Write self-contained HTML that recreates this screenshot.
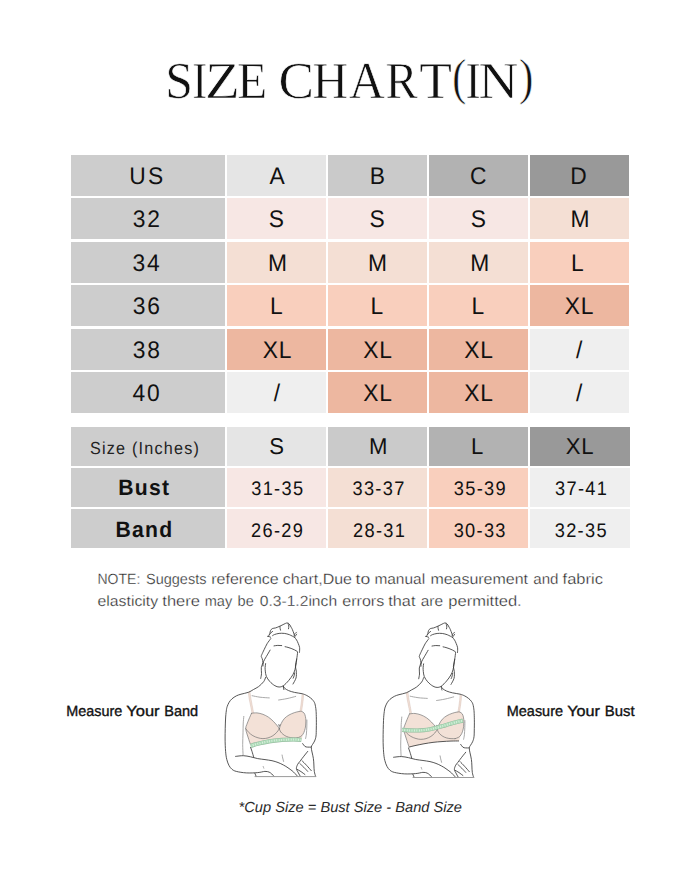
<!DOCTYPE html>
<html><head><meta charset="utf-8"><title>Size Chart</title>
<style>
html,body{margin:0;padding:0;background:#fff;}
body{width:700px;height:875px;overflow:hidden;position:relative;font-family:"Liberation Sans",sans-serif;}
svg{position:absolute;left:0;top:0;}
text{text-rendering:geometricPrecision;font-family:"Liberation Sans",sans-serif;fill:#111;}
.t1{font-kerning:none;}
.t2h{fill:#222;font-kerning:none;}
.t2b{font-weight:bold;font-kerning:none;}
.t2n{font-kerning:none;}
.ttl{font-family:"Liberation Serif",serif;font-size:51.8px;fill:#111;stroke:#fff;stroke-width:0.6px;}
.note{font-size:14.8px;fill:#222;stroke:#fff;stroke-width:0.3px;}
.lbl{font-size:14.8px;fill:#111;stroke:#111;stroke-width:0.35px;}
.foot{font-size:14.6px;font-style:italic;fill:#2a2a2a;}
</style></head><body>
<svg width="700" height="875" viewBox="0 0 700 875">
<rect width="700" height="875" fill="#fff"/>
<text class="ttl" transform="translate(165.27,97.70) scale(0.962,1.000)">S</text><text class="ttl" transform="translate(192.17,97.70) scale(0.870,1.000)">I</text><text class="ttl" transform="translate(205.07,97.70) scale(1.101,1.000)">Z</text><text class="ttl" transform="translate(237.19,97.70) scale(0.947,1.000)">E</text><text class="ttl" transform="translate(278.62,97.70) scale(1.028,1.000)">C</text><text class="ttl" transform="translate(312.58,97.70) scale(0.951,1.000)">H</text><text class="ttl" transform="translate(348.92,97.70) scale(0.956,1.000)">A</text><text class="ttl" transform="translate(385.41,97.70) scale(0.931,1.000)">R</text><text class="ttl" transform="translate(419.33,97.70) scale(1.032,1.000)">T</text><text class="ttl" transform="translate(452.25,94.25) scale(0.812,0.984)">(</text><text class="ttl" transform="translate(465.56,97.70) scale(0.878,1.000)">I</text><text class="ttl" transform="translate(478.41,97.70) scale(1.063,1.000)">N</text><text class="ttl" transform="translate(518.91,94.25) scale(0.834,0.984)">)</text>
<rect x="71" y="155" width="154.0" height="41" fill="#cdcdcd"/>
<rect x="227" y="155" width="99.0" height="41" fill="#e5e5e5"/>
<rect x="328" y="155" width="99.0" height="41" fill="#cacaca"/>
<rect x="429" y="155" width="99.0" height="41" fill="#b2b2b2"/>
<rect x="530" y="155" width="99.0" height="41" fill="#999999"/>
<rect x="71" y="198" width="154.0" height="41" fill="#cdcdcd"/>
<rect x="227" y="198" width="99.0" height="41" fill="#f7e7e4"/>
<rect x="328" y="198" width="99.0" height="41" fill="#f7e7e4"/>
<rect x="429" y="198" width="99.0" height="41" fill="#f7e7e4"/>
<rect x="530" y="198" width="99.0" height="41" fill="#f4dfd4"/>
<rect x="71" y="242" width="154.0" height="41" fill="#cdcdcd"/>
<rect x="227" y="242" width="99.0" height="41" fill="#f4dfd4"/>
<rect x="328" y="242" width="99.0" height="41" fill="#f4dfd4"/>
<rect x="429" y="242" width="99.0" height="41" fill="#f4dfd4"/>
<rect x="530" y="242" width="99.0" height="41" fill="#f9cfbd"/>
<rect x="71" y="285" width="154.0" height="41" fill="#cdcdcd"/>
<rect x="227" y="285" width="99.0" height="41" fill="#f9cfbd"/>
<rect x="328" y="285" width="99.0" height="41" fill="#f9cfbd"/>
<rect x="429" y="285" width="99.0" height="41" fill="#f9cfbd"/>
<rect x="530" y="285" width="99.0" height="41" fill="#edb7a0"/>
<rect x="71" y="329" width="154.0" height="41" fill="#cdcdcd"/>
<rect x="227" y="329" width="99.0" height="41" fill="#edb7a0"/>
<rect x="328" y="329" width="99.0" height="41" fill="#edb7a0"/>
<rect x="429" y="329" width="99.0" height="41" fill="#edb7a0"/>
<rect x="530" y="329" width="99.0" height="41" fill="#efefef"/>
<rect x="71" y="372" width="154.0" height="41" fill="#cdcdcd"/>
<rect x="227" y="372" width="99.0" height="41" fill="#efefef"/>
<rect x="328" y="372" width="99.0" height="41" fill="#edb7a0"/>
<rect x="429" y="372" width="99.0" height="41" fill="#edb7a0"/>
<rect x="530" y="372" width="99.0" height="41" fill="#efefef"/>
<rect x="71" y="427" width="154.0" height="39" fill="#cdcdcd"/>
<rect x="227" y="427" width="99.0" height="39" fill="#e5e5e5"/>
<rect x="328" y="427" width="99.0" height="39" fill="#cacaca"/>
<rect x="429" y="427" width="99.0" height="39" fill="#b2b2b2"/>
<rect x="530" y="427" width="100.0" height="39" fill="#999999"/>
<rect x="71" y="468" width="154.0" height="39" fill="#cdcdcd"/>
<rect x="227" y="468" width="99.0" height="39" fill="#f7e7e4"/>
<rect x="328" y="468" width="99.0" height="39" fill="#f4dfd4"/>
<rect x="429" y="468" width="99.0" height="39" fill="#f9cfbd"/>
<rect x="530" y="468" width="100.0" height="39" fill="#efefef"/>
<rect x="71" y="509" width="154.0" height="39" fill="#cdcdcd"/>
<rect x="227" y="509" width="99.0" height="39" fill="#f7e7e4"/>
<rect x="328" y="509" width="99.0" height="39" fill="#f4dfd4"/>
<rect x="429" y="509" width="99.0" height="39" fill="#f9cfbd"/>
<rect x="530" y="509" width="100.0" height="39" fill="#efefef"/>
<text class="t1" transform="translate(129.17,183.90) scale(0.95,1)" style="font-size:24px;letter-spacing:2.4px;">US</text>
<text class="t1" transform="translate(269.60,183.90) scale(0.95,1)" style="font-size:24px;">A</text>
<text class="t1" transform="translate(369.71,183.90) scale(0.95,1)" style="font-size:24px;">B</text>
<text class="t1" transform="translate(469.92,183.90) scale(0.95,1)" style="font-size:24px;">C</text>
<text class="t1" transform="translate(570.18,183.90) scale(0.95,1)" style="font-size:24px;">D</text>
<text class="t1" transform="translate(132.86,226.90) scale(0.95,1)" style="font-size:24px;letter-spacing:1.9px;">32</text>
<text class="t1" transform="translate(268.80,226.90) scale(0.95,1)" style="font-size:24px;">S</text>
<text class="t1" transform="translate(369.60,226.90) scale(0.95,1)" style="font-size:24px;">S</text>
<text class="t1" transform="translate(470.70,226.90) scale(0.95,1)" style="font-size:24px;">S</text>
<text class="t1" transform="translate(570.40,226.90) scale(0.95,1)" style="font-size:24px;">M</text>
<text class="t1" transform="translate(132.62,270.90) scale(0.95,1)" style="font-size:24px;letter-spacing:1.9px;">34</text>
<text class="t1" transform="translate(267.95,270.90) scale(0.95,1)" style="font-size:24px;">M</text>
<text class="t1" transform="translate(368.00,270.90) scale(0.95,1)" style="font-size:24px;">M</text>
<text class="t1" transform="translate(470.20,270.90) scale(0.95,1)" style="font-size:24px;">M</text>
<text class="t1" transform="translate(571.10,270.90) scale(0.95,1)" style="font-size:24px;">L</text>
<text class="t1" transform="translate(132.78,313.90) scale(0.95,1)" style="font-size:24px;letter-spacing:1.9px;">36</text>
<text class="t1" transform="translate(270.10,313.90) scale(0.95,1)" style="font-size:24px;">L</text>
<text class="t1" transform="translate(370.60,313.90) scale(0.95,1)" style="font-size:24px;">L</text>
<text class="t1" transform="translate(471.50,313.90) scale(0.95,1)" style="font-size:24px;">L</text>
<text class="t1" transform="translate(564.80,313.90) scale(0.95,1)" style="font-size:24px;letter-spacing:0.8px;">XL</text>
<text class="t1" transform="translate(132.78,357.90) scale(0.95,1)" style="font-size:24px;letter-spacing:1.9px;">38</text>
<text class="t1" transform="translate(262.80,357.90) scale(0.95,1)" style="font-size:24px;letter-spacing:0.8px;">XL</text>
<text class="t1" transform="translate(363.30,357.90) scale(0.95,1)" style="font-size:24px;letter-spacing:0.8px;">XL</text>
<text class="t1" transform="translate(464.20,357.90) scale(0.95,1)" style="font-size:24px;letter-spacing:0.8px;">XL</text>
<text class="t1" transform="translate(576.03,357.90) scale(0.95,1)" style="font-size:24px;">/</text>
<text class="t1" transform="translate(132.50,400.90) scale(0.95,1)" style="font-size:24px;letter-spacing:1.9px;">40</text>
<text class="t1" transform="translate(273.83,400.90) scale(0.95,1)" style="font-size:24px;">/</text>
<text class="t1" transform="translate(363.30,400.90) scale(0.95,1)" style="font-size:24px;letter-spacing:0.8px;">XL</text>
<text class="t1" transform="translate(464.20,400.90) scale(0.95,1)" style="font-size:24px;letter-spacing:0.8px;">XL</text>
<text class="t1" transform="translate(576.03,400.90) scale(0.95,1)" style="font-size:24px;">/</text>
<text class="t2h" transform="translate(89.97,453.90) scale(0.93,1)" style="font-size:17.4px;letter-spacing:1.3px;">Size (Inches)</text>
<text class="t1" transform="translate(269.13,453.90) scale(0.97,1)" style="font-size:22.8px;">S</text>
<text class="t1" transform="translate(369.09,453.90) scale(0.97,1)" style="font-size:22.8px;">M</text>
<text class="t1" transform="translate(471.11,453.90) scale(0.97,1)" style="font-size:22.8px;">L</text>
<text class="t1" transform="translate(565.71,453.90) scale(0.97,1)" style="font-size:22.8px;letter-spacing:0.8px;">XL</text>
<text class="t2b" transform="translate(118.26,494.70) scale(0.95,1)" style="font-size:22.3px;letter-spacing:1.35px;">Bust</text>
<text class="t2n" transform="translate(251.22,494.70) scale(0.93,1)" style="font-size:19.6px;letter-spacing:1.4px;">31-35</text>
<text class="t2n" transform="translate(352.50,494.70) scale(0.93,1)" style="font-size:19.6px;letter-spacing:1.4px;">33-37</text>
<text class="t2n" transform="translate(453.87,494.70) scale(0.93,1)" style="font-size:19.6px;letter-spacing:1.4px;">35-39</text>
<text class="t2n" transform="translate(555.08,494.70) scale(0.93,1)" style="font-size:19.6px;letter-spacing:1.4px;">37-41</text>
<text class="t2b" transform="translate(115.48,536.50) scale(0.95,1)" style="font-size:22.3px;letter-spacing:1.35px;">Band</text>
<text class="t2n" transform="translate(251.06,536.90) scale(0.93,1)" style="font-size:19.6px;letter-spacing:1.4px;">26-29</text>
<text class="t2n" transform="translate(353.07,536.90) scale(0.93,1)" style="font-size:19.6px;letter-spacing:1.4px;">28-31</text>
<text class="t2n" transform="translate(453.64,536.90) scale(0.93,1)" style="font-size:19.6px;letter-spacing:1.4px;">30-33</text>
<text class="t2n" transform="translate(554.72,536.90) scale(0.93,1)" style="font-size:19.6px;letter-spacing:1.4px;">32-35</text>
<text class="note" x="97.5" y="583.6" textLength="42.8" lengthAdjust="spacingAndGlyphs">NOTE:</text><text class="note" x="146.0" y="583.6" textLength="60.4" lengthAdjust="spacingAndGlyphs">Suggests</text><text class="note" x="211.3" y="583.6" textLength="67.3" lengthAdjust="spacingAndGlyphs">reference</text><text class="note" x="282.7" y="583.6" textLength="69.3" lengthAdjust="spacingAndGlyphs">chart,Due</text><text class="note" x="355.5" y="583.6" textLength="14.7" lengthAdjust="spacingAndGlyphs">to</text><text class="note" x="374.4" y="583.6" textLength="50.7" lengthAdjust="spacingAndGlyphs">manual</text><text class="note" x="430.4" y="583.6" textLength="97.6" lengthAdjust="spacingAndGlyphs">measurement</text><text class="note" x="533.3" y="583.6" textLength="25.2" lengthAdjust="spacingAndGlyphs">and</text><text class="note" x="562.6" y="583.6" textLength="40.4" lengthAdjust="spacingAndGlyphs">fabric</text><text class="note" x="97.5" y="606.2" textLength="60.6" lengthAdjust="spacingAndGlyphs">elasticity</text><text class="note" x="162.3" y="606.2" textLength="37.6" lengthAdjust="spacingAndGlyphs">there</text><text class="note" x="204.7" y="606.2" textLength="27.5" lengthAdjust="spacingAndGlyphs">may</text><text class="note" x="237.6" y="606.2" textLength="16.2" lengthAdjust="spacingAndGlyphs">be</text><text class="note" x="259.7" y="606.2" textLength="77.4" lengthAdjust="spacingAndGlyphs">0.3-1.2inch</text><text class="note" x="342.3" y="606.2" textLength="41.9" lengthAdjust="spacingAndGlyphs">errors</text><text class="note" x="388.3" y="606.2" textLength="27.1" lengthAdjust="spacingAndGlyphs">that</text><text class="note" x="420.7" y="606.2" textLength="22.3" lengthAdjust="spacingAndGlyphs">are</text><text class="note" x="448.3" y="606.2" textLength="73.4" lengthAdjust="spacingAndGlyphs">permitted.</text>
<text class="lbl" x="66.2" y="716" textLength="56.0" lengthAdjust="spacingAndGlyphs">Measure</text><text class="lbl" x="126.2" y="716" textLength="33.4" lengthAdjust="spacingAndGlyphs">Your</text><text class="lbl" x="164.2" y="716" textLength="34.0" lengthAdjust="spacingAndGlyphs">Band</text><text class="lbl" x="506.8" y="716" textLength="56.2" lengthAdjust="spacingAndGlyphs">Measure</text><text class="lbl" x="567.2" y="716" textLength="32.8" lengthAdjust="spacingAndGlyphs">Your</text><text class="lbl" x="604.8" y="716" textLength="29.8" lengthAdjust="spacingAndGlyphs">Bust</text>
<text class="foot" x="238.6" y="812.4" textLength="223.4" lengthAdjust="spacingAndGlyphs">*Cup Size = Bust Size - Band Size</text>
<g fill="none" stroke="#383838" stroke-width="0.85" stroke-linecap="round" stroke-linejoin="round"><path d="M250.7,745.3 L248.8,739.5 L247.0,734.0 L245.7,728.6 L246.8,724.5 L249.0,719.0 L251.5,713.3 L257.0,712.9 L262.9,714.3 L268.5,717.2 L273.5,721.5 L277.5,726.0 L279.3,728.8 L281.2,723.5 L284.3,718.6 L289.0,715.0 L294.3,712.7 L299.0,711.5 L301.6,711.4 L304.2,713.2 L305.4,716.5 L305.9,721.0 L305.6,726.0 L304.6,730.5 L302.9,734.3 L301.8,739.2 L301.3,739.9 L293.4,739.5 L282.0,739.9 L269.1,741.3 L257.7,743.8 L250.6,745.9Z" fill="#f3e1d7" stroke="none"/><path d="M248.3,692.3 L249.2,699.0 L250.6,706.0 L252.0,713.2 L253.6,712.8 L252.3,706.0 L251.0,699.0 L250.0,692.0Z" fill="#f3e1d7" stroke="none"/><path d="M302.0,694.6 L301.6,700.0 L300.8,706.0 L299.9,711.7 L301.6,711.4 L302.4,706.0 L303.2,700.0 L303.6,694.8Z" fill="#f3e1d7" stroke="none"/><path d="M248.3,692.3C248.5,693.4 248.8,696.7 249.2,699.0C249.6,701.3 250.1,703.6 250.6,706.0C251.1,708.4 251.8,712.0 252.0,713.2" stroke="#cdb4a8" stroke-width="0.4"/><path d="M250.0,692.0C250.2,693.2 250.6,696.7 251.0,699.0C251.4,701.3 251.9,703.7 252.3,706.0C252.7,708.3 253.4,711.7 253.6,712.8" stroke="#cdb4a8" stroke-width="0.4"/><path d="M302.0,694.6C301.9,695.5 301.8,698.1 301.6,700.0C301.4,701.9 301.1,704.0 300.8,706.0C300.5,708.0 300.0,710.8 299.9,711.7" stroke="#cdb4a8" stroke-width="0.4"/><path d="M303.6,694.8C303.5,695.7 303.4,698.1 303.2,700.0C303.0,701.9 302.7,704.1 302.4,706.0C302.1,707.9 301.7,710.5 301.6,711.4" stroke="#cdb4a8" stroke-width="0.4"/><path d="M268.4,636.4C268.6,635.9 269.5,634.4 269.9,633.4C270.2,632.4 270.1,631.4 270.5,630.6C270.9,629.8 271.4,629.1 272.3,628.6C273.2,628.1 274.4,628.3 275.7,627.9C277.0,627.5 278.6,626.7 280.0,626.1C281.4,625.5 282.8,624.7 283.9,624.2C285.0,623.7 285.9,623.1 286.6,623.0C287.4,622.9 287.8,623.0 288.4,623.3C288.9,623.6 289.4,624.3 289.9,625.0C290.4,625.7 290.8,626.5 291.2,627.3C291.6,628.1 292.0,628.6 292.4,629.6C292.8,630.6 293.3,632.0 293.7,633.0C294.1,634.0 294.5,635.3 294.7,635.8"/>
<path d="M293.9,634.8C294.1,634.6 294.8,634.0 295.2,633.6C295.6,633.2 296.3,632.4 296.5,632.2"/>
<path d="M267.6,636.3C267.9,636.3 268.7,636.5 269.2,636.6C269.7,636.8 270.4,637.1 270.6,637.2"/>
<path d="M294.8,636.6C295.0,636.4 295.5,635.8 295.8,635.4C296.1,635.0 296.5,634.4 296.6,634.2"/>
<path d="M269.8,634.2C270.0,633.9 270.7,633.0 271.2,632.5C271.7,632.0 272.4,631.7 272.6,631.5"/>
<path d="M272.6,635.6C272.9,635.4 273.5,634.9 274.6,634.5C275.7,634.1 277.5,633.6 279.1,633.4C280.7,633.2 282.6,633.2 284.3,633.4C286.0,633.6 287.7,634.1 289.4,634.7C291.1,635.4 293.7,636.9 294.6,637.3"/>
<path d="M280.0,626.6C280.0,626.9 280.0,627.8 280.1,628.4C280.2,629.0 280.4,629.9 280.5,630.2"/>
<path d="M288.0,623.6C288.1,624.0 288.7,625.1 288.8,626.0C288.9,626.9 288.6,628.3 288.5,628.8"/>
<path d="M294.6,637.3C294.9,637.8 296.0,639.0 296.6,640.0C297.2,641.0 297.7,642.1 298.2,643.4C298.7,644.7 299.4,646.1 299.6,647.6C299.8,649.1 299.5,651.5 299.5,652.3"/>
<path d="M270.8,638.6C270.2,639.5 268.2,641.9 267.1,643.7C266.0,645.6 265.0,647.9 264.1,649.7C263.2,651.5 262.3,653.5 261.8,654.6C261.3,655.8 261.2,655.9 261.3,656.6C261.4,657.3 261.9,657.6 262.2,658.6C262.5,659.6 263.0,661.1 262.9,662.6C262.8,664.1 261.5,665.9 261.3,667.7C261.1,669.6 261.6,671.9 261.5,673.7C261.4,675.5 260.8,677.6 260.7,678.4"/>
<path d="M297.6,652.3C297.5,653.4 297.1,656.8 296.7,659.1C296.3,661.4 295.5,664.0 295.4,666.0C295.3,668.0 296.2,669.1 296.3,671.1C296.4,673.1 296.6,675.9 296.0,678.0C295.4,680.1 293.5,683.0 293.0,684.0"/>
<path d="M274.0,645.9C274.6,645.8 276.5,645.4 277.8,645.4C279.1,645.4 281.1,645.6 281.7,645.6"/>
<path d="M285.1,646.7C285.6,646.8 287.0,647.1 288.0,647.4C289.0,647.7 290.0,648.0 291.1,648.4C292.2,648.8 293.4,649.3 294.4,649.8C295.4,650.3 296.8,651.2 297.3,651.5"/>
<path d="M265.6,663.6C265.5,664.2 265.2,666.2 265.1,667.5C265.1,668.8 265.1,669.6 265.3,671.1C265.5,672.6 265.6,674.6 266.3,676.3C267.0,678.0 268.3,679.8 269.7,681.4C271.1,683.0 273.3,684.8 274.9,685.7C276.5,686.6 277.7,687.0 279.1,687.0C280.5,687.0 281.8,686.8 283.4,685.7C285.0,684.6 287.0,682.5 288.6,680.6C290.2,678.8 291.8,676.5 292.9,674.6C294.0,672.7 294.5,671.2 295.0,669.4C295.5,667.6 295.8,665.7 296.1,664.0C296.4,662.3 296.6,659.9 296.7,659.1"/>
<path d="M270.1,650.1C269.5,651.2 267.4,654.7 266.3,656.6C265.2,658.5 264.1,660.1 263.5,661.7C262.9,663.3 263.1,665.3 263.0,666.0"/>
<path d="M294.6,672.9C294.5,673.3 294.4,674.6 294.2,675.5C294.0,676.4 293.4,677.8 293.2,678.2"/>
<path d="M265.6,677.3C265.3,678.0 264.9,680.0 263.7,681.6C262.5,683.2 260.3,685.3 258.6,686.6C256.9,687.9 255.2,688.5 253.5,689.5C251.8,690.5 250.5,691.5 248.4,692.3C246.3,693.1 243.0,693.6 241.0,694.2C239.0,694.8 237.8,695.1 236.3,695.9C234.8,696.7 233.2,697.7 232.0,698.8C230.8,699.9 229.9,701.0 229.1,702.3C228.3,703.6 227.7,705.1 227.2,706.5C226.7,707.9 226.6,708.6 226.3,710.9C226.0,713.1 225.7,715.5 225.5,720.0C225.3,724.5 225.1,732.8 225.1,738.0C225.1,743.2 225.3,747.8 225.6,751.4C225.9,755.0 226.2,757.1 226.8,759.5C227.4,761.9 228.2,764.1 229.1,765.7C230.0,767.3 230.8,768.3 232.0,769.3C233.2,770.2 233.9,770.8 236.3,771.4C238.7,772.0 242.7,772.7 246.3,772.9C249.9,773.1 254.6,772.9 257.7,772.6C260.8,772.4 263.0,771.5 264.9,771.4C266.8,771.3 268.0,771.7 269.1,772.1C270.2,772.5 271.0,773.3 271.8,774.0C272.6,774.7 273.7,776.0 274.1,776.4"/>
<path d="M283.4,686.1C283.6,686.5 283.7,687.5 284.6,688.2C285.5,689.0 287.0,689.9 288.6,690.6C290.2,691.3 292.3,691.9 294.5,692.4C296.7,692.9 299.9,693.2 302.0,693.7C304.1,694.2 305.4,694.8 306.8,695.5C308.2,696.2 309.5,697.1 310.6,698.0C311.7,698.9 312.5,699.6 313.2,700.6C313.9,701.6 314.4,702.1 314.9,703.7C315.4,705.3 315.8,707.9 316.0,710.0C316.2,712.1 316.2,713.6 316.3,716.6C316.4,719.6 316.4,724.8 316.3,728.0C316.2,731.2 316.3,733.8 316.0,736.0C315.7,738.2 315.2,739.6 314.6,741.0C314.0,742.4 313.1,743.5 312.5,744.5C311.9,745.5 311.4,745.9 311.3,747.1C311.2,748.4 311.6,750.1 312.0,752.0C312.4,753.9 313.1,756.4 313.4,758.6C313.7,760.8 313.8,762.9 313.9,765.0C314.0,767.1 314.0,769.5 314.3,771.4C314.6,773.3 315.4,775.6 315.6,776.4"/>
<path d="M283.3,686.3C283.3,686.6 283.4,687.5 283.5,688.0C283.6,688.5 283.8,689.3 283.9,689.6"/>
<path d="M252.1,695.7C253.4,696.0 257.1,696.8 260.0,697.2C262.9,697.6 267.8,697.8 269.3,697.9" stroke="#9a9a9a"/>
<path d="M278.6,700.0C280.0,699.8 284.1,699.2 287.0,698.6C289.9,698.0 294.2,696.8 295.7,696.4" stroke="#9a9a9a"/>
<path d="M243.8,716.4C243.7,717.7 243.3,721.2 243.2,724.0C243.1,726.8 243.1,729.5 243.0,732.9C242.9,736.3 242.7,740.6 242.7,744.3C242.7,748.0 243.0,753.2 243.1,755.0" stroke="#9a9a9a"/>
<path d="M235.6,756.4C236.9,756.3 240.9,755.6 243.4,755.7C245.9,755.8 248.1,756.3 250.5,756.8C252.9,757.3 255.3,758.1 257.7,758.6C260.1,759.1 262.6,759.2 265.0,759.6C267.4,760.0 269.8,760.2 272.0,760.7C274.2,761.2 276.1,761.8 278.0,762.5C279.9,763.2 281.7,764.1 283.4,765.0C285.1,765.9 286.6,766.8 288.0,767.8C289.4,768.8 290.8,769.8 292.0,770.7C293.2,771.7 294.1,772.5 295.0,773.5C295.9,774.5 297.2,775.9 297.7,776.4"/>
<path d="M250.6,747.4C250.8,748.1 251.5,749.8 252.0,751.4C252.5,753.0 253.4,756.1 253.7,757.1"/>
<path d="M282.1,755.0C282.2,755.5 282.4,756.9 282.7,758.0C282.9,759.1 283.5,760.8 283.6,761.4" stroke="#9a9a9a"/>
<path d="M254.9,773.4C255.1,773.9 256.0,775.9 256.2,776.4"/>
<path d="M263.2,766.5C263.3,766.8 263.7,767.9 263.8,768.2" stroke="#9a9a9a"/>
<path d="M306.9,720.0C306.9,721.2 306.9,724.7 306.8,727.0C306.7,729.3 306.6,732.1 306.4,734.0C306.2,735.9 305.7,737.8 305.6,738.5" stroke="#9a9a9a"/>
<path d="M302.7,743.6C303.1,744.1 304.1,745.8 304.9,746.4C305.7,747.0 306.5,747.0 307.5,747.1C308.5,747.2 310.2,747.1 310.8,747.1"/>
<path d="M307.7,751.4C307.2,752.0 305.8,753.8 304.8,755.0C303.9,756.2 302.8,757.5 302.0,758.6C301.2,759.7 300.5,760.5 299.8,761.5C299.1,762.5 298.3,763.1 297.7,764.3C297.1,765.5 296.3,767.2 296.4,768.6C296.5,770.0 297.8,771.6 298.4,772.9C299.0,774.2 300.0,775.7 300.3,776.2"/>
<path d="M299.9,763.6C300.5,764.2 302.5,766.0 303.8,767.3C305.1,768.6 307.1,770.7 307.7,771.4"/>
<path d="M302.0,760.7C302.8,761.5 305.1,763.7 306.6,765.4C308.2,767.1 310.5,769.8 311.3,770.7"/>
<path d="M297.0,769.3C297.7,769.7 299.7,770.7 301.0,771.6C302.3,772.5 304.2,774.0 304.9,774.5"/><path d="M251.5,713.3C252.4,713.2 255.1,712.7 257.0,712.9C258.9,713.1 261.0,713.6 262.9,714.3C264.8,715.0 266.7,716.0 268.5,717.2C270.3,718.4 272.0,720.0 273.5,721.5C275.0,723.0 276.5,724.8 277.5,726.0C278.5,727.2 279.0,728.3 279.3,728.8" stroke="#6a6a6a" stroke-width="0.65"/><path d="M245.7,728.6C246.2,729.2 247.6,731.3 248.8,732.5C250.0,733.7 251.4,734.8 252.9,735.7C254.4,736.6 256.3,737.3 258.0,737.8C259.7,738.3 261.2,738.6 262.9,738.6C264.6,738.6 266.3,738.4 268.0,737.9C269.7,737.4 271.4,736.6 272.9,735.7C274.4,734.8 275.7,733.4 276.8,732.3C277.9,731.1 278.9,729.4 279.3,728.8" stroke="#6a6a6a" stroke-width="0.65"/><path d="M251.5,713.3C251.1,714.2 249.8,717.1 249.0,719.0C248.2,720.9 247.4,722.9 246.8,724.5C246.2,726.1 245.7,727.0 245.7,728.6C245.7,730.2 246.5,732.2 247.0,734.0C247.5,735.8 248.2,737.6 248.8,739.5C249.4,741.4 250.4,744.3 250.7,745.3" stroke="#6a6a6a" stroke-width="0.65"/><path d="M279.3,728.8C279.6,727.9 280.4,725.2 281.2,723.5C282.0,721.8 283.0,720.0 284.3,718.6C285.6,717.2 287.3,716.0 289.0,715.0C290.7,714.0 292.6,713.3 294.3,712.7C296.0,712.1 297.8,711.7 299.0,711.5C300.2,711.3 300.7,711.1 301.6,711.4C302.5,711.7 303.6,712.4 304.2,713.2C304.8,714.1 305.1,715.2 305.4,716.5C305.7,717.8 305.9,719.4 305.9,721.0C305.9,722.6 305.8,724.4 305.6,726.0C305.4,727.6 305.1,729.1 304.6,730.5C304.2,731.9 303.6,733.3 302.9,734.3C302.2,735.3 301.5,736.0 300.5,736.6C299.5,737.2 297.7,737.7 297.1,737.9" stroke="#6a6a6a" stroke-width="0.65"/><path d="M279.3,728.8C279.4,729.2 279.8,730.3 280.2,731.0C280.6,731.7 280.8,732.2 281.6,733.0C282.4,733.8 283.6,734.9 284.8,735.6C286.0,736.3 287.2,736.8 288.6,737.2C290.0,737.6 291.6,737.8 293.0,737.9C294.4,738.0 296.4,737.9 297.1,737.9" stroke="#6a6a6a" stroke-width="0.65"/><path d="M278.6,724.6L279.3,726.4L280,724.6" stroke-width="0.5"/><path d="M250.6,745.9C251.8,745.5 254.6,744.6 257.7,743.8C260.8,743.0 265.1,741.9 269.1,741.3C273.2,740.6 277.9,740.2 282.0,739.9C286.1,739.6 290.2,739.5 293.4,739.5C296.6,739.5 300.0,739.8 301.3,739.9" stroke="#93b59b" stroke-width="4.2" stroke-linecap="butt"/><path d="M250.6,745.9C251.8,745.5 254.6,744.6 257.7,743.8C260.8,743.0 265.1,741.9 269.1,741.3C273.2,740.6 277.9,740.2 282.0,739.9C286.1,739.6 290.2,739.5 293.4,739.5C296.6,739.5 300.0,739.8 301.3,739.9" stroke="#addbb8" stroke-width="3.4" stroke-linecap="butt"/><path d="M250.6,745.9C251.8,745.5 254.6,744.6 257.7,743.8C260.8,743.0 265.1,741.9 269.1,741.3C273.2,740.6 277.9,740.2 282.0,739.9C286.1,739.6 290.2,739.5 293.4,739.5C296.6,739.5 300.0,739.8 301.3,739.9" stroke="#e6f4e8" stroke-width="2.0" stroke-dasharray="0.7 1.7" stroke-linecap="butt"/><path d="M255,776.6H315.8" stroke="#9a9a9a" stroke-width="1"/></g>
<g transform="translate(158,-4.05) scale(1,1.0065)" fill="none" stroke="#383838" stroke-width="0.85" stroke-linecap="round" stroke-linejoin="round"><path d="M250.7,745.3 L248.8,739.5 L247.0,734.0 L245.7,728.6 L246.8,724.5 L249.0,719.0 L251.5,713.3 L257.0,712.9 L262.9,714.3 L268.5,717.2 L273.5,721.5 L277.5,726.0 L279.3,728.8 L281.2,723.5 L284.3,718.6 L289.0,715.0 L294.3,712.7 L299.0,711.5 L301.6,711.4 L304.2,713.2 L305.4,716.5 L305.9,721.0 L305.6,726.0 L304.6,730.5 L302.9,734.3 L301.0,740.2 L300.6,740.2 L293.0,740.3 L284.0,740.8 L275.0,741.6 L266.0,743.0 L258.0,744.6 L250.9,746.3Z" fill="#f3e1d7" stroke="none"/><path d="M248.3,692.3 L249.2,699.0 L250.6,706.0 L252.0,713.2 L253.6,712.8 L252.3,706.0 L251.0,699.0 L250.0,692.0Z" fill="#f3e1d7" stroke="none"/><path d="M302.0,694.6 L301.6,700.0 L300.8,706.0 L299.9,711.7 L301.6,711.4 L302.4,706.0 L303.2,700.0 L303.6,694.8Z" fill="#f3e1d7" stroke="none"/><path d="M248.3,692.3C248.5,693.4 248.8,696.7 249.2,699.0C249.6,701.3 250.1,703.6 250.6,706.0C251.1,708.4 251.8,712.0 252.0,713.2" stroke="#cdb4a8" stroke-width="0.4"/><path d="M250.0,692.0C250.2,693.2 250.6,696.7 251.0,699.0C251.4,701.3 251.9,703.7 252.3,706.0C252.7,708.3 253.4,711.7 253.6,712.8" stroke="#cdb4a8" stroke-width="0.4"/><path d="M302.0,694.6C301.9,695.5 301.8,698.1 301.6,700.0C301.4,701.9 301.1,704.0 300.8,706.0C300.5,708.0 300.0,710.8 299.9,711.7" stroke="#cdb4a8" stroke-width="0.4"/><path d="M303.6,694.8C303.5,695.7 303.4,698.1 303.2,700.0C303.0,701.9 302.7,704.1 302.4,706.0C302.1,707.9 301.7,710.5 301.6,711.4" stroke="#cdb4a8" stroke-width="0.4"/><path d="M268.4,636.4C268.6,635.9 269.5,634.4 269.9,633.4C270.2,632.4 270.1,631.4 270.5,630.6C270.9,629.8 271.4,629.1 272.3,628.6C273.2,628.1 274.4,628.3 275.7,627.9C277.0,627.5 278.6,626.7 280.0,626.1C281.4,625.5 282.8,624.7 283.9,624.2C285.0,623.7 285.9,623.1 286.6,623.0C287.4,622.9 287.8,623.0 288.4,623.3C288.9,623.6 289.4,624.3 289.9,625.0C290.4,625.7 290.8,626.5 291.2,627.3C291.6,628.1 292.0,628.6 292.4,629.6C292.8,630.6 293.3,632.0 293.7,633.0C294.1,634.0 294.5,635.3 294.7,635.8"/>
<path d="M293.9,634.8C294.1,634.6 294.8,634.0 295.2,633.6C295.6,633.2 296.3,632.4 296.5,632.2"/>
<path d="M267.6,636.3C267.9,636.3 268.7,636.5 269.2,636.6C269.7,636.8 270.4,637.1 270.6,637.2"/>
<path d="M294.8,636.6C295.0,636.4 295.5,635.8 295.8,635.4C296.1,635.0 296.5,634.4 296.6,634.2"/>
<path d="M269.8,634.2C270.0,633.9 270.7,633.0 271.2,632.5C271.7,632.0 272.4,631.7 272.6,631.5"/>
<path d="M272.6,635.6C272.9,635.4 273.5,634.9 274.6,634.5C275.7,634.1 277.5,633.6 279.1,633.4C280.7,633.2 282.6,633.2 284.3,633.4C286.0,633.6 287.7,634.1 289.4,634.7C291.1,635.4 293.7,636.9 294.6,637.3"/>
<path d="M280.0,626.6C280.0,626.9 280.0,627.8 280.1,628.4C280.2,629.0 280.4,629.9 280.5,630.2"/>
<path d="M288.0,623.6C288.1,624.0 288.7,625.1 288.8,626.0C288.9,626.9 288.6,628.3 288.5,628.8"/>
<path d="M294.6,637.3C294.9,637.8 296.0,639.0 296.6,640.0C297.2,641.0 297.7,642.1 298.2,643.4C298.7,644.7 299.4,646.1 299.6,647.6C299.8,649.1 299.5,651.5 299.5,652.3"/>
<path d="M270.8,638.6C270.2,639.5 268.2,641.9 267.1,643.7C266.0,645.6 265.0,647.9 264.1,649.7C263.2,651.5 262.3,653.5 261.8,654.6C261.3,655.8 261.2,655.9 261.3,656.6C261.4,657.3 261.9,657.6 262.2,658.6C262.5,659.6 263.0,661.1 262.9,662.6C262.8,664.1 261.5,665.9 261.3,667.7C261.1,669.6 261.6,671.9 261.5,673.7C261.4,675.5 260.8,677.6 260.7,678.4"/>
<path d="M297.6,652.3C297.5,653.4 297.1,656.8 296.7,659.1C296.3,661.4 295.5,664.0 295.4,666.0C295.3,668.0 296.2,669.1 296.3,671.1C296.4,673.1 296.6,675.9 296.0,678.0C295.4,680.1 293.5,683.0 293.0,684.0"/>
<path d="M274.0,645.9C274.6,645.8 276.5,645.4 277.8,645.4C279.1,645.4 281.1,645.6 281.7,645.6"/>
<path d="M285.1,646.7C285.6,646.8 287.0,647.1 288.0,647.4C289.0,647.7 290.0,648.0 291.1,648.4C292.2,648.8 293.4,649.3 294.4,649.8C295.4,650.3 296.8,651.2 297.3,651.5"/>
<path d="M265.6,663.6C265.5,664.2 265.2,666.2 265.1,667.5C265.1,668.8 265.1,669.6 265.3,671.1C265.5,672.6 265.6,674.6 266.3,676.3C267.0,678.0 268.3,679.8 269.7,681.4C271.1,683.0 273.3,684.8 274.9,685.7C276.5,686.6 277.7,687.0 279.1,687.0C280.5,687.0 281.8,686.8 283.4,685.7C285.0,684.6 287.0,682.5 288.6,680.6C290.2,678.8 291.8,676.5 292.9,674.6C294.0,672.7 294.5,671.2 295.0,669.4C295.5,667.6 295.8,665.7 296.1,664.0C296.4,662.3 296.6,659.9 296.7,659.1"/>
<path d="M270.1,650.1C269.5,651.2 267.4,654.7 266.3,656.6C265.2,658.5 264.1,660.1 263.5,661.7C262.9,663.3 263.1,665.3 263.0,666.0"/>
<path d="M294.6,672.9C294.5,673.3 294.4,674.6 294.2,675.5C294.0,676.4 293.4,677.8 293.2,678.2"/>
<path d="M265.6,677.3C265.3,678.0 264.9,680.0 263.7,681.6C262.5,683.2 260.3,685.3 258.6,686.6C256.9,687.9 255.2,688.5 253.5,689.5C251.8,690.5 250.5,691.5 248.4,692.3C246.3,693.1 243.0,693.6 241.0,694.2C239.0,694.8 237.8,695.1 236.3,695.9C234.8,696.7 233.2,697.7 232.0,698.8C230.8,699.9 229.9,701.0 229.1,702.3C228.3,703.6 227.7,705.1 227.2,706.5C226.7,707.9 226.6,708.6 226.3,710.9C226.0,713.1 225.7,715.5 225.5,720.0C225.3,724.5 225.1,732.8 225.1,738.0C225.1,743.2 225.3,747.8 225.6,751.4C225.9,755.0 226.2,757.1 226.8,759.5C227.4,761.9 228.2,764.1 229.1,765.7C230.0,767.3 230.8,768.3 232.0,769.3C233.2,770.2 233.9,770.8 236.3,771.4C238.7,772.0 242.7,772.7 246.3,772.9C249.9,773.1 254.6,772.9 257.7,772.6C260.8,772.4 263.0,771.5 264.9,771.4C266.8,771.3 268.0,771.7 269.1,772.1C270.2,772.5 271.0,773.3 271.8,774.0C272.6,774.7 273.7,776.0 274.1,776.4"/>
<path d="M283.4,686.1C283.6,686.5 283.7,687.5 284.6,688.2C285.5,689.0 287.0,689.9 288.6,690.6C290.2,691.3 292.3,691.9 294.5,692.4C296.7,692.9 299.9,693.2 302.0,693.7C304.1,694.2 305.4,694.8 306.8,695.5C308.2,696.2 309.5,697.1 310.6,698.0C311.7,698.9 312.5,699.6 313.2,700.6C313.9,701.6 314.4,702.1 314.9,703.7C315.4,705.3 315.8,707.9 316.0,710.0C316.2,712.1 316.2,713.6 316.3,716.6C316.4,719.6 316.4,724.8 316.3,728.0C316.2,731.2 316.3,733.8 316.0,736.0C315.7,738.2 315.2,739.6 314.6,741.0C314.0,742.4 313.1,743.5 312.5,744.5C311.9,745.5 311.4,745.9 311.3,747.1C311.2,748.4 311.6,750.1 312.0,752.0C312.4,753.9 313.1,756.4 313.4,758.6C313.7,760.8 313.8,762.9 313.9,765.0C314.0,767.1 314.0,769.5 314.3,771.4C314.6,773.3 315.4,775.6 315.6,776.4"/>
<path d="M283.3,686.3C283.3,686.6 283.4,687.5 283.5,688.0C283.6,688.5 283.8,689.3 283.9,689.6"/>
<path d="M252.1,695.7C253.4,696.0 257.1,696.8 260.0,697.2C262.9,697.6 267.8,697.8 269.3,697.9" stroke="#9a9a9a"/>
<path d="M278.6,700.0C280.0,699.8 284.1,699.2 287.0,698.6C289.9,698.0 294.2,696.8 295.7,696.4" stroke="#9a9a9a"/>
<path d="M243.8,716.4C243.7,717.7 243.3,721.2 243.2,724.0C243.1,726.8 243.1,729.5 243.0,732.9C242.9,736.3 242.7,740.6 242.7,744.3C242.7,748.0 243.0,753.2 243.1,755.0" stroke="#9a9a9a"/>
<path d="M235.6,756.4C236.9,756.3 240.9,755.6 243.4,755.7C245.9,755.8 248.1,756.3 250.5,756.8C252.9,757.3 255.3,758.1 257.7,758.6C260.1,759.1 262.6,759.2 265.0,759.6C267.4,760.0 269.8,760.2 272.0,760.7C274.2,761.2 276.1,761.8 278.0,762.5C279.9,763.2 281.7,764.1 283.4,765.0C285.1,765.9 286.6,766.8 288.0,767.8C289.4,768.8 290.8,769.8 292.0,770.7C293.2,771.7 294.1,772.5 295.0,773.5C295.9,774.5 297.2,775.9 297.7,776.4"/>
<path d="M250.6,747.4C250.8,748.1 251.5,749.8 252.0,751.4C252.5,753.0 253.4,756.1 253.7,757.1"/>
<path d="M282.1,755.0C282.2,755.5 282.4,756.9 282.7,758.0C282.9,759.1 283.5,760.8 283.6,761.4" stroke="#9a9a9a"/>
<path d="M254.9,773.4C255.1,773.9 256.0,775.9 256.2,776.4"/>
<path d="M263.2,766.5C263.3,766.8 263.7,767.9 263.8,768.2" stroke="#9a9a9a"/>
<path d="M306.9,720.0C306.9,721.2 306.9,724.7 306.8,727.0C306.7,729.3 306.6,732.1 306.4,734.0C306.2,735.9 305.7,737.8 305.6,738.5" stroke="#9a9a9a"/>
<path d="M302.7,743.6C303.1,744.1 304.1,745.8 304.9,746.4C305.7,747.0 306.5,747.0 307.5,747.1C308.5,747.2 310.2,747.1 310.8,747.1"/>
<path d="M307.7,751.4C307.2,752.0 305.8,753.8 304.8,755.0C303.9,756.2 302.8,757.5 302.0,758.6C301.2,759.7 300.5,760.5 299.8,761.5C299.1,762.5 298.3,763.1 297.7,764.3C297.1,765.5 296.3,767.2 296.4,768.6C296.5,770.0 297.8,771.6 298.4,772.9C299.0,774.2 300.0,775.7 300.3,776.2"/>
<path d="M299.9,763.6C300.5,764.2 302.5,766.0 303.8,767.3C305.1,768.6 307.1,770.7 307.7,771.4"/>
<path d="M302.0,760.7C302.8,761.5 305.1,763.7 306.6,765.4C308.2,767.1 310.5,769.8 311.3,770.7"/>
<path d="M297.0,769.3C297.7,769.7 299.7,770.7 301.0,771.6C302.3,772.5 304.2,774.0 304.9,774.5"/><path d="M251.5,713.3C252.4,713.2 255.1,712.7 257.0,712.9C258.9,713.1 261.0,713.6 262.9,714.3C264.8,715.0 266.7,716.0 268.5,717.2C270.3,718.4 272.0,720.0 273.5,721.5C275.0,723.0 276.5,724.8 277.5,726.0C278.5,727.2 279.0,728.3 279.3,728.8" stroke="#6a6a6a" stroke-width="0.65"/><path d="M245.7,728.6C246.2,729.2 247.6,731.3 248.8,732.5C250.0,733.7 251.4,734.8 252.9,735.7C254.4,736.6 256.3,737.3 258.0,737.8C259.7,738.3 261.2,738.6 262.9,738.6C264.6,738.6 266.3,738.4 268.0,737.9C269.7,737.4 271.4,736.6 272.9,735.7C274.4,734.8 275.7,733.4 276.8,732.3C277.9,731.1 278.9,729.4 279.3,728.8" stroke="#6a6a6a" stroke-width="0.65"/><path d="M251.5,713.3C251.1,714.2 249.8,717.1 249.0,719.0C248.2,720.9 247.4,722.9 246.8,724.5C246.2,726.1 245.7,727.0 245.7,728.6C245.7,730.2 246.5,732.2 247.0,734.0C247.5,735.8 248.2,737.6 248.8,739.5C249.4,741.4 250.4,744.3 250.7,745.3" stroke="#6a6a6a" stroke-width="0.65"/><path d="M279.3,728.8C279.6,727.9 280.4,725.2 281.2,723.5C282.0,721.8 283.0,720.0 284.3,718.6C285.6,717.2 287.3,716.0 289.0,715.0C290.7,714.0 292.6,713.3 294.3,712.7C296.0,712.1 297.8,711.7 299.0,711.5C300.2,711.3 300.7,711.1 301.6,711.4C302.5,711.7 303.6,712.4 304.2,713.2C304.8,714.1 305.1,715.2 305.4,716.5C305.7,717.8 305.9,719.4 305.9,721.0C305.9,722.6 305.8,724.4 305.6,726.0C305.4,727.6 305.1,729.1 304.6,730.5C304.2,731.9 303.6,733.3 302.9,734.3C302.2,735.3 301.5,736.0 300.5,736.6C299.5,737.2 297.7,737.7 297.1,737.9" stroke="#6a6a6a" stroke-width="0.65"/><path d="M279.3,728.8C279.4,729.2 279.8,730.3 280.2,731.0C280.6,731.7 280.8,732.2 281.6,733.0C282.4,733.8 283.6,734.9 284.8,735.6C286.0,736.3 287.2,736.8 288.6,737.2C290.0,737.6 291.6,737.8 293.0,737.9C294.4,738.0 296.4,737.9 297.1,737.9" stroke="#6a6a6a" stroke-width="0.65"/><path d="M278.6,724.6L279.3,726.4L280,724.6" stroke-width="0.5"/><path d="M250.9,746.3C252.1,746.0 255.5,745.1 258.0,744.6C260.5,744.1 263.2,743.5 266.0,743.0C268.8,742.5 272.0,742.0 275.0,741.6C278.0,741.2 281.0,741.0 284.0,740.8C287.0,740.6 290.2,740.4 293.0,740.3C295.8,740.2 299.3,740.2 300.6,740.2"/><path d="M244.1,729.2C245.2,729.3 248.5,729.6 251.0,729.7C253.5,729.8 256.6,729.8 259.1,729.8C261.6,729.8 263.9,729.6 266.0,729.4C268.1,729.2 269.8,729.0 272.0,728.6C274.2,728.2 276.9,727.5 279.1,726.9C281.3,726.3 283.1,725.8 285.0,725.3C286.9,724.8 288.4,724.2 290.6,723.6C292.8,723.0 295.6,722.2 298.0,721.6C300.4,721.0 303.8,720.3 304.9,720.0" stroke="#93b59b" stroke-width="4.2" stroke-linecap="butt"/><path d="M244.1,729.2C245.2,729.3 248.5,729.6 251.0,729.7C253.5,729.8 256.6,729.8 259.1,729.8C261.6,729.8 263.9,729.6 266.0,729.4C268.1,729.2 269.8,729.0 272.0,728.6C274.2,728.2 276.9,727.5 279.1,726.9C281.3,726.3 283.1,725.8 285.0,725.3C286.9,724.8 288.4,724.2 290.6,723.6C292.8,723.0 295.6,722.2 298.0,721.6C300.4,721.0 303.8,720.3 304.9,720.0" stroke="#addbb8" stroke-width="3.4" stroke-linecap="butt"/><path d="M244.1,729.2C245.2,729.3 248.5,729.6 251.0,729.7C253.5,729.8 256.6,729.8 259.1,729.8C261.6,729.8 263.9,729.6 266.0,729.4C268.1,729.2 269.8,729.0 272.0,728.6C274.2,728.2 276.9,727.5 279.1,726.9C281.3,726.3 283.1,725.8 285.0,725.3C286.9,724.8 288.4,724.2 290.6,723.6C292.8,723.0 295.6,722.2 298.0,721.6C300.4,721.0 303.8,720.3 304.9,720.0" stroke="#e6f4e8" stroke-width="2.0" stroke-dasharray="0.7 1.7" stroke-linecap="butt"/><path d="M255,776.6H315.8" stroke="#9a9a9a" stroke-width="1"/></g>

</svg>
</body></html>
